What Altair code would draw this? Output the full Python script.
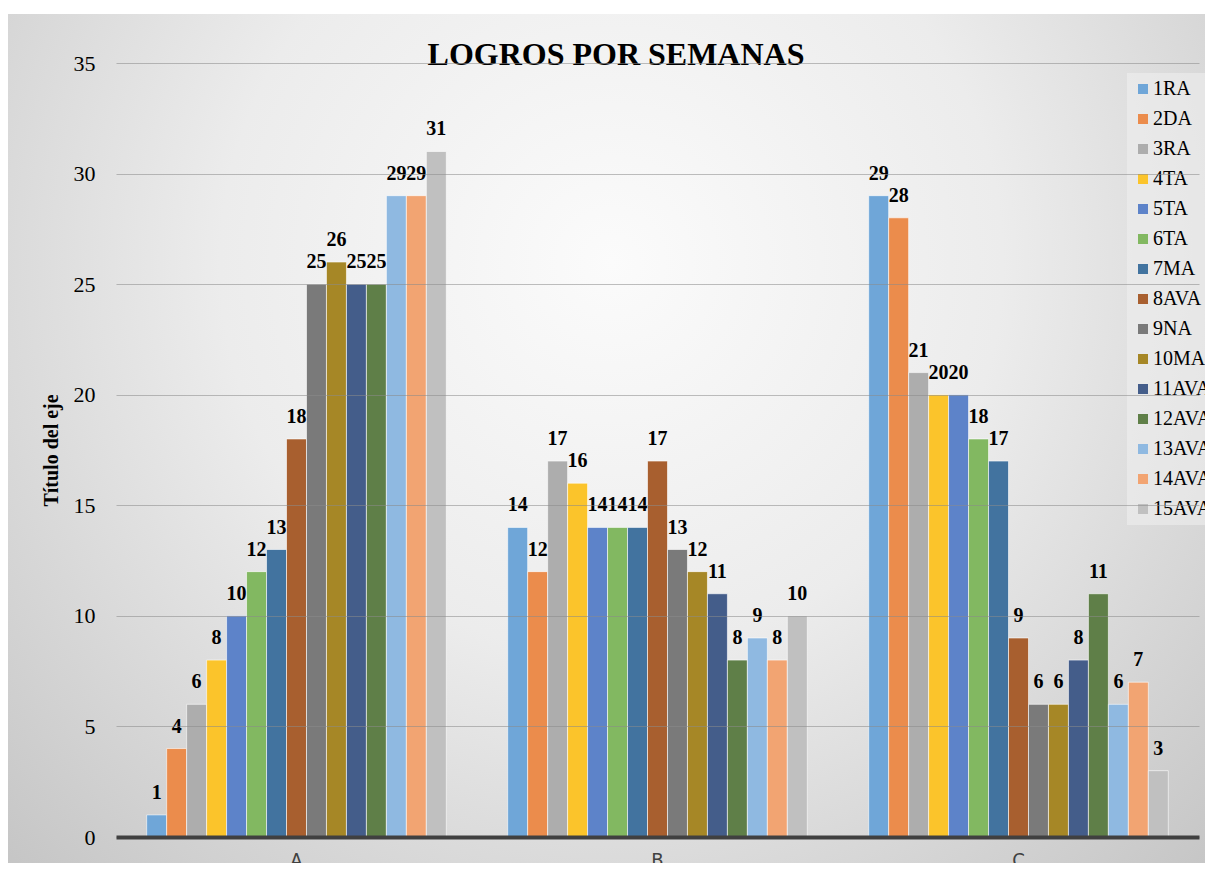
import altair as alt
import pandas as pd

categories = ["A", "B", "C"]
series = ["1RA", "2DA", "3RA", "4TA", "5TA", "6TA", "7MA", "8AVA", "9NA",
          "10MA", "11AVA", "12AVA", "13AVA", "14AVA", "15AVA"]
values_A = [1, 4, 6, 8, 10, 12, 13, 18, 25, 26, 25, 25, 29, 29, 31]
values_B = [14, 12, 17, 16, 14, 14, 14, 17, 13, 12, 11, 8, 9, 8, 10]
values_C = [29, 28, 21, 20, 20, 18, 17, 9, 6, 6, 8, 11, 6, 7, 3]
colors = ["#6fa6d8", "#eb8c4c", "#adadad", "#fbc42b", "#5d83c9", "#82b861",
          "#42739f", "#a85f2f", "#7a7a7a", "#a68726", "#445d8a", "#5f7f48",
          "#8fb9e1", "#f2a472", "#c0c0c0"]
y_ticks = [0, 5, 10, 15, 20, 25, 30, 35]
chart_title = "LOGROS POR SEMANAS"

rows = []
for cat, vals in zip(categories, [values_A, values_B, values_C]):
    for s, v in zip(series, vals):
        rows.append({"cat": cat, "serie": s, "valor": v})
df = pd.DataFrame(rows)

W, H = 1083, 774
PL, PT, PR, PB = 108, 55, 6, 26

bg = alt.Chart(pd.DataFrame({"k": [0]})).mark_rect(
    fill={
        "gradient": "radial",
        "x1": 0.5, "y1": 0.35, "r1": 0.0,
        "x2": 0.5, "y2": 0.35, "r2": 0.72,
        "stops": [
            {"offset": 0.0, "color": "#fbfbfb"},
            {"offset": 0.45, "color": "#ececec"},
            {"offset": 1.0, "color": "#c4c4c4"},
        ],
    }
).encode(
    x=alt.value(-PL), x2=alt.value(W + PR + 10),
    y=alt.value(14 - 8 - PT), y2=alt.value(H + PB + 10),
)

title_mark = alt.Chart(pd.DataFrame({"t": [chart_title]})).mark_text(
    font="Liberation Serif", fontSize=32, fontWeight="bold", color="black",
    baseline="alphabetic", align="center",
).encode(x=alt.value(616 - 116), y=alt.value(2), text="t:N")

x_enc = alt.X(
    "cat:N", title=None, sort=categories,
    scale=alt.Scale(paddingInner=0.17, paddingOuter=0.085),
    axis=alt.Axis(
        labelAngle=0, ticks=False, domainColor="#404040", domainWidth=4,
        labelFont="DejaVu Sans Condensed", labelFontSize=20, labelColor="#404040",
        labelPadding=13, grid=False, zindex=1,
    ),
)
xoff_enc = alt.XOffset("serie:N", sort=series,
                       scale=alt.Scale(paddingInner=0, paddingOuter=0))
y_enc = alt.Y(
    "valor:Q", scale=alt.Scale(domain=[0, 35], nice=False),
    axis=alt.Axis(
        values=y_ticks, title="Título del eje", domain=False, ticks=False,
        labelFont="Liberation Serif", labelFontSize=22, labelColor="black",
        labelPadding=21, grid=True, gridColor="#8a8a8a", gridOpacity=0.55,
        titleFont="Liberation Serif", titleFontSize=20, titleFontWeight="bold",
        titleColor="black", titlePadding=12, zindex=1,
    ),
)

bars = alt.Chart(df).mark_bar(
    stroke="white", strokeWidth=1, strokeOpacity=0.6
).encode(
    x=x_enc, xOffset=xoff_enc, y=y_enc,
    color=alt.Color(
        "serie:N", sort=series,
        scale=alt.Scale(domain=series, range=colors),
        legend=alt.Legend(
            title=None, orient="none", legendX=1011, legendY=10,
            symbolType="square", symbolSize=100, symbolStrokeWidth=0,
            labelFont="Liberation Serif", labelFontSize=20, labelColor="black",
            rowPadding=10, padding=6, fillColor="rgba(240,240,240,0.55)",
            labelLimit=200, labelOffset=0,
        ),
    ),
)

labels = alt.Chart(df).mark_text(
    dy=-16, baseline="alphabetic", font="Liberation Serif",
    fontWeight="bold", fontSize=20, color="black",
).encode(
    x=alt.X("cat:N", sort=categories), xOffset=xoff_enc,
    y=alt.Y("valor:Q"), text=alt.Text("valor:Q"),
)

chart = alt.layer(bg, bars, labels, title_mark).properties(
    width=W, height=H,
    autosize=alt.AutoSizeParams(type="none"),
    padding={"left": PL, "top": PT, "right": PR, "bottom": PB},
).configure(background="white").configure_view(stroke=None)

chart.save("out.html", embed_options={"renderer": "svg", "actions": False})
